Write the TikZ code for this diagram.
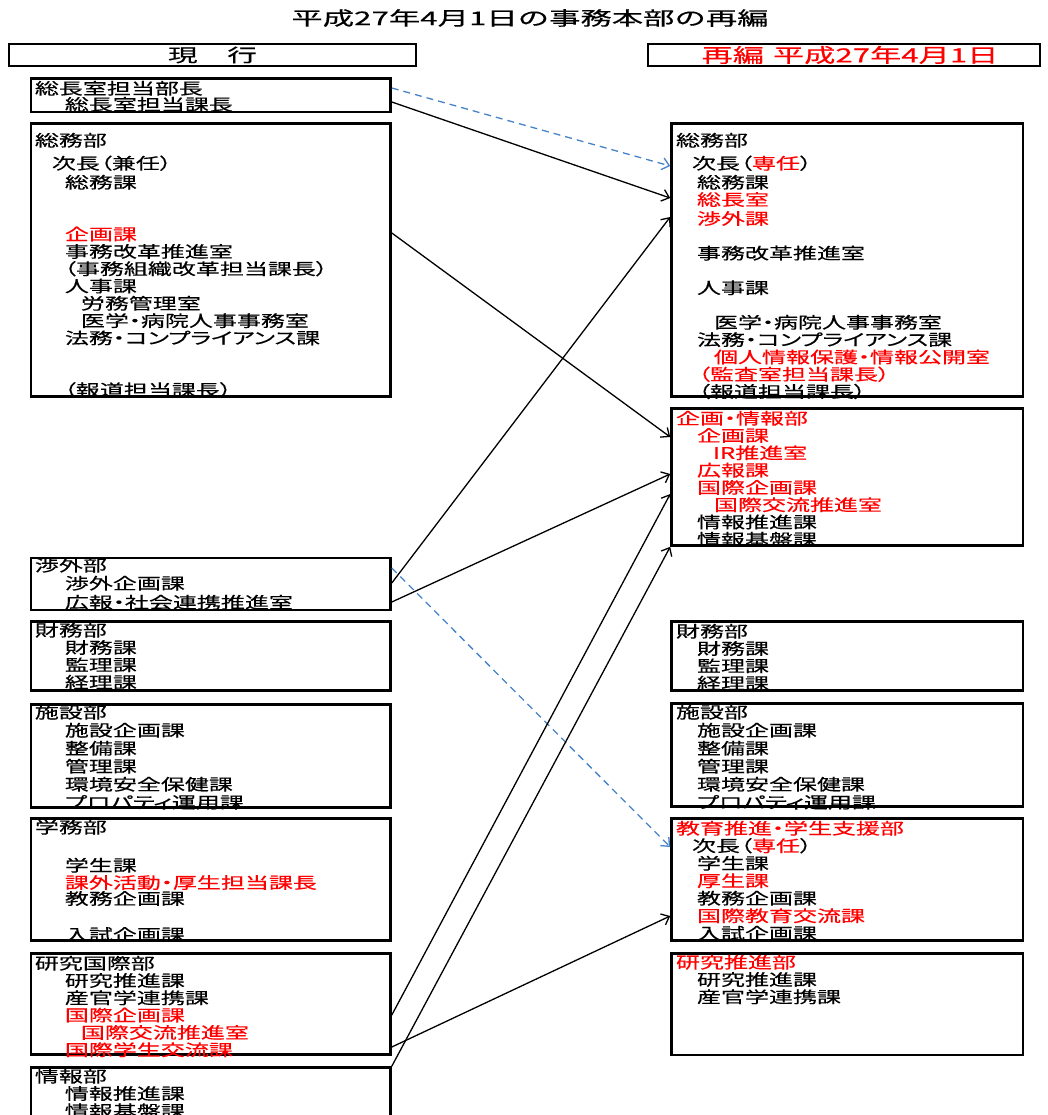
\documentclass[tikz,border=0pt]{standalone}
\usepackage{fontspec}
\setmainfont{Noto Sans CJK JP}[FakeStretch=1.5,FakeBold=0.4,RawFeature=+palt]
\newfontfamily\titlefont{Noto Sans CJK JP}[FakeStretch=1.65,FakeBold=0.4]
\newfontfamily\redhdfont{Noto Sans CJK JP}[FakeStretch=1.6,FakeBold=0.4]
\usetikzlibrary{arrows.meta,positioning}
\definecolor{linkblue}{RGB}{70,130,200}

\begin{document}
\begin{tikzpicture}[x=1pt,y=-1pt,
  every node/.style={font=\fontsize{16}{17.3}\selectfont},
  box/.style={draw,line width=2.6pt,anchor=north west,inner sep=0pt,minimum width=359.5pt},
  rbox/.style={box,minimum width=351.5pt},
  hd/.style={draw,line width=2.2pt,inner sep=0pt,minimum height=22pt},
  txt/.style={anchor=north west,inner sep=0pt,align=left},
  ar/.style={-{Straight Barb[length=7pt,width=12pt]},line width=1.3pt},
  dl/.style={ar,draw=linkblue,dash pattern=on 7pt off 5pt}]
\useasboundingbox (0,0) rectangle (1047,1115);

\node[font=\titlefont\fontsize{19}{22}\selectfont] (title) at (530,18) {平成27年4月1日の事務本部の再編};
\node[hd,minimum width=407pt,font=\titlefont\fontsize{18}{20}\selectfont] (genko) at (212.5,55) {現　行};
\node[hd,minimum width=392pt,text=red,font=\redhdfont\fontsize{19.5}{20}\selectfont] (saihen) at (844,55) {\hspace{12pt}再編\hspace{9pt}平成27年4月1日};

% 現行
\node[box,minimum height=33.5pt] (sbL) at (29.7,77.2) {};
\node[txt] (sbLt) at ([shift={(5,3)}]sbL.north west) {\rule{0pt}{14pt}総長室担当部長\\[-1.3pt]
  \hspace*{30pt}総長室担当課長};

\node[box,minimum height=273pt] (somuL) at (29.7,122.4) {};
\node[txt] (somuLt) at ([shift={(5,9.7)}]somuL.north west) {\rule{0pt}{14pt}総務部\\[5.7pt]
  \hspace*{17pt}次長（兼任）\\[1.7pt]
  \hspace*{30pt}総務課\\[34.6pt]
  \hspace*{30pt}\textcolor{red}{企画課}\\
  \hspace*{30pt}事務改革推進室\\
  \hspace*{29pt}（事務組織改革担当課長）\\
  \hspace*{30pt}人事課\\
  \hspace*{46pt}労務管理室\\
  \hspace*{46pt}医学・病院人事事務室\\
  \hspace*{30pt}法務・コンプライアンス課\\[34.6pt]
  \hspace*{29pt}（報道担当課長）};

\node[box,minimum height=52pt] (shogaiL) at (29.7,556.7) {};
\node[txt] (shogaiLt) at ([shift={(5,0.4)}]shogaiL.north west) {\rule{0pt}{14pt}渉外部\\[0.7pt]
  \hspace*{30pt}渉外企画課\\[1.7pt]
  \hspace*{30pt}広報・社会連携推進室};

\node[box,minimum height=69pt] (zaimuL) at (29.7,620.2) {};
\node[txt] (zaimuLt) at ([shift={(5,1.9)}]zaimuL.north west) {\rule{0pt}{14pt}財務部\\
  \hspace*{30pt}財務課\\
  \hspace*{30pt}監理課\\
  \hspace*{30pt}経理課};

\node[box,minimum height=103pt] (shisetsuL) at (29.7,703.2) {};
\node[txt] (shisetsuLt) at ([shift={(5,0.9)}]shisetsuL.north west) {\rule{0pt}{14pt}施設部\\[0.7pt]
  \hspace*{30pt}施設企画課\\[0.7pt]
  \hspace*{30pt}整備課\\[0.7pt]
  \hspace*{30pt}管理課\\[0.7pt]
  \hspace*{30pt}環境安全保健課\\[0.7pt]
  \hspace*{30pt}プロパティ運用課};

\node[box,minimum height=122pt] (gakumuL) at (29.7,817.2) {};
\node[txt] (gakumuLt) at ([shift={(5,1.9)}]gakumuL.north west) {\rule{0pt}{14pt}学務部\\[20.7pt]
  \hspace*{30pt}学生課\\
  \hspace*{30pt}\textcolor{red}{課外活動・厚生担当課長}\\[-1.3pt]
  \hspace*{30pt}教務企画課\\[18.7pt]
  \hspace*{30pt}入試企画課};

\node[box,minimum height=101pt] (kenkokuL) at (29.7,952.2) {};
\node[txt] (kenkokuLt) at ([shift={(5,2.9)}]kenkokuL.north west) {\rule{0pt}{14pt}研究国際部\\
  \hspace*{30pt}研究推進課\\
  \hspace*{30pt}産官学連携課\\
  \hspace*{30pt}\textcolor{red}{国際企画課}\\
  \hspace*{46pt}\textcolor{red}{国際交流推進室}\\
  \hspace*{30pt}\textcolor{red}{国際学生交流課}};

\node[box,minimum height=80pt] (johoL) at (29.7,1066.2) {};
\node[txt] (johoLt) at ([shift={(5,1.9)}]johoL.north west) {\rule{0pt}{14pt}情報部\\
  \hspace*{30pt}情報推進課\\
  \hspace*{30pt}情報基盤課};

% 再編
\node[rbox,minimum height=273pt] (somuR) at (670.2,122.4) {};
\node[txt] (somuRt) at ([shift={(5.6,9.7)}]somuR.north west) {\rule{0pt}{14pt}総務部\\[5.7pt]
  \hspace*{16pt}次長（\textcolor{red}{専任}）\\[1.7pt]
  \hspace*{21pt}総務課\\
  \hspace*{21pt}\textcolor{red}{総長室}\\[1.7pt]
  \hspace*{21pt}\textcolor{red}{渉外課}\\[17.3pt]
  \hspace*{21pt}事務改革推進室\\[17.3pt]
  \hspace*{21pt}人事課\\[17.3pt]
  \hspace*{38pt}医学・病院人事事務室\\
  \hspace*{21pt}法務・コンプライアンス課\\
  \hspace*{38pt}\textcolor{red}{個人情報保護・情報公開室}\\
  \hspace*{22pt}\textcolor{red}{（監査室担当課長）}\\
  \hspace*{22pt}（報道担当課長）};

\node[rbox,minimum height=137pt] (kikakuR) at (670.2,407.2) {};
\node[txt,text=red] (kikakuRt) at ([shift={(5.6,2.9)}]kikakuR.north west) {\rule{0pt}{14pt}企画・情報部\\
  \hspace*{21pt}企画課\\
  \hspace*{37pt}IR推進室\\
  \hspace*{21pt}広報課\\
  \hspace*{21pt}国際企画課\\
  \hspace*{38pt}国際交流推進室\\
  \hspace*{21pt}\textcolor{black}{情報推進課}\\
  \hspace*{21pt}\textcolor{black}{情報基盤課}};

\node[rbox,minimum height=69pt] (zaimuR) at (670.2,620.2) {};
\node[txt] (zaimuRt) at ([shift={(5.6,2.9)}]zaimuR.north west) {\rule{0pt}{14pt}財務部\\
  \hspace*{21pt}財務課\\
  \hspace*{21pt}監理課\\
  \hspace*{21pt}経理課};

\node[rbox,minimum height=103pt] (shisetsuR) at (670.2,702.2) {};
\node[txt] (shisetsuRt) at ([shift={(5.6,1.9)}]shisetsuR.north west) {\rule{0pt}{14pt}施設部\\[0.7pt]
  \hspace*{21pt}施設企画課\\[0.7pt]
  \hspace*{21pt}整備課\\[0.7pt]
  \hspace*{21pt}管理課\\[0.7pt]
  \hspace*{21pt}環境安全保健課\\[0.7pt]
  \hspace*{21pt}プロパティ運用課};

\node[rbox,minimum height=122pt] (kyoikuR) at (670.2,817.2) {};
\node[txt] (kyoikuRt) at ([shift={(5.6,2.9)}]kyoikuR.north west) {\rule{0pt}{14pt}\textcolor{red}{教育推進・学生支援部}\\[0.2pt]
  \hspace*{16pt}次長（\textcolor{red}{専任}）\\[0.2pt]
  \hspace*{21pt}学生課\\[0.2pt]
  \hspace*{21pt}\textcolor{red}{厚生課}\\[0.2pt]
  \hspace*{21pt}教務企画課\\[0.2pt]
  \hspace*{21pt}\textcolor{red}{国際教育交流課}\\[0.2pt]
  \hspace*{21pt}入試企画課};

\node[rbox,minimum height=101.5pt] (kenkyuR) at (670.2,952.2) {};
\node[txt] (kenkyuRt) at ([shift={(5.6,1.9)}]kenkyuR.north west) {\rule{0pt}{14pt}\textcolor{red}{研究推進部}\\
  \hspace*{21pt}研究推進課\\
  \hspace*{21pt}産官学連携課};

% 矢印
\draw[dl] ([shift={(0,10.8)}]sbL.north east) -- ([shift={(0,43.6)}]somuR.north west);
\draw[ar] ([shift={(0,24.8)}]sbL.north east) -- ([shift={(0,75.6)}]somuR.north west);
\draw[ar] ([shift={(0,110.6)}]somuL.north east) -- ([shift={(0,29.8)}]kikakuR.north west);
\draw[ar] ([shift={(0,26.3)}]shogaiL.north east) -- ([shift={(0,94.6)}]somuR.north west);
\draw[ar] ([shift={(0,45.3)}]shogaiL.north east) -- ([shift={(0,66.8)}]kikakuR.north west);
\draw[dl] ([shift={(0,11.3)}]shogaiL.north east) -- ([shift={(0,29.8)}]kyoikuR.north west);
\draw[ar] ([shift={(0,62.8)}]kenkokuL.north east) -- ([shift={(0,86.8)}]kikakuR.north west);
\draw[ar] ([shift={(0,94.8)}]kenkokuL.north east) -- ([shift={(0,98.8)}]kyoikuR.north west);
\draw[ar] (johoL.north east) -- (kikakuR.south west);
\end{tikzpicture}
\end{document}
